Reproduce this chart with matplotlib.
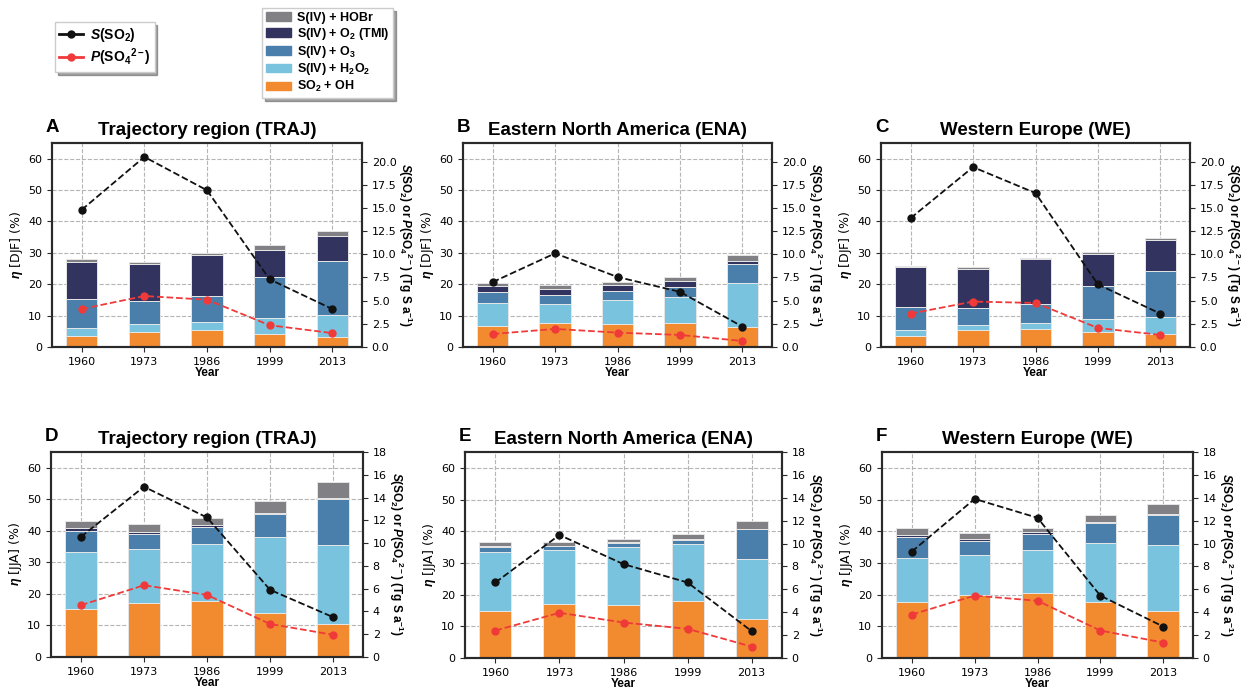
import numpy as np
import matplotlib
matplotlib.use("Agg")
import matplotlib.pyplot as plt
from matplotlib.patches import Patch
from matplotlib.lines import Line2D

plt.rcParams['font.family'] = ['DejaVu Sans']
plt.rcParams['mathtext.fontset'] = 'custom'
plt.rcParams['mathtext.rm'] = 'Liberation Sans:bold'
plt.rcParams['mathtext.it'] = 'Liberation Sans:italic:bold'
plt.rcParams['mathtext.bf'] = 'Liberation Sans:bold'

years = ['1960', '1973', '1986', '1999', '2013']
letters = ['A', 'B', 'C', 'D', 'E', 'F']
regions = ['Trajectory region (TRAJ)', 'Eastern North America (ENA)', 'Western Europe (WE)'] * 2
seasons = ['DJF'] * 3 + ['JJA'] * 3

# contribution to eta (%) of each pathway, one row per panel A..F
so2_oh = [[3.5, 4.8, 5.3, 4.1, 3.3],
          [6.8, 7.6, 7.3, 7.6, 6.3],
          [3.5, 5.4, 5.8, 4.8, 4.1],
          [15.2, 17.1, 17.8, 13.8, 10.6],
          [14.7, 17.1, 16.8, 17.9, 12.3],
          [17.6, 19.8, 20.5, 17.8, 14.9]]
s4_h2o2 = [[2.5, 2.5, 2.6, 5.2, 6.8],
           [7.2, 6.2, 7.6, 8.4, 14.1],
           [1.8, 1.7, 2.0, 4.0, 5.6],
           [18.0, 17.3, 17.9, 24.2, 25.0],
           [18.9, 17.1, 18.2, 18.1, 19.0],
           [14.0, 12.8, 13.6, 18.4, 20.6]]
s4_o3 = [[9.3, 7.5, 8.2, 13.1, 17.3],
         [3.5, 2.9, 3.1, 3.1, 6.2],
         [7.3, 5.3, 6.0, 10.5, 14.5],
         [6.9, 4.7, 5.6, 7.5, 14.4],
         [1.4, 1.1, 1.2, 1.1, 9.3],
         [6.5, 4.3, 4.9, 6.3, 9.6]]
s4_tmi = [[11.9, 11.7, 13.2, 8.6, 7.9],
          [1.8, 1.9, 1.6, 1.8, 0.9],
          [13.0, 12.6, 14.1, 10.2, 9.8],
          [0.7, 0.6, 0.6, 0.3, 0.3],
          [0.3, 0.1, 0.4, 0.4, 0.2],
          [0.7, 0.7, 0.7, 0.4, 0.4]]
s4_hobr = [[0.7, 0.7, 0.8, 1.4, 1.6],
           [1.1, 1.3, 1.2, 1.3, 1.9],
           [0.3, 0.4, 0.4, 0.7, 0.8],
           [2.4, 2.5, 2.3, 3.6, 5.3],
           [1.3, 1.1, 1.1, 1.5, 2.4],
           [2.1, 1.7, 1.3, 2.1, 3.1]]

# S(SO2) and P(SO4 2-) in Tg S a-1
s_so2 = [[14.8, 20.5, 16.9, 7.3, 4.1],
         [7.0, 10.1, 7.55, 5.95, 2.2],
         [13.9, 19.4, 16.6, 6.75, 3.6],
         [10.55, 14.95, 12.25, 5.9, 3.5],
         [6.6, 10.75, 8.2, 6.6, 2.35],
         [9.3, 13.9, 12.25, 5.45, 2.75]]
p_so4 = [[4.1, 5.5, 5.1, 2.35, 1.5],
         [1.4, 1.95, 1.55, 1.3, 0.65],
         [3.6, 4.9, 4.75, 2.05, 1.3],
         [4.55, 6.3, 5.45, 2.9, 1.95],
         [2.4, 3.95, 3.1, 2.55, 1.0],
         [3.8, 5.45, 5.0, 2.4, 1.35]]

layer_names = [r'SO$_2$ + OH', r'S(IV) + H$_2$O$_2$', r'S(IV) + O$_3$',
               r'S(IV) + O$_2$ (TMI)', 'S(IV) + HOBr']
layer_colors = ['#f28a30', '#79c3de', '#4a7eab', '#32335f', '#808085']
red = '#f03a3a'

# axes rectangles in pixels: left, top, right, bottom
W, H = 1246, 690
rects = [(52, 143, 362, 347), (463, 143, 772, 347), (881, 143, 1190, 347),
         (51, 452, 363, 657), (465, 452, 782, 658), (882, 452, 1193, 658)]

fig = plt.figure(figsize=(W / 100, H / 100), dpi=100)
lab_font = dict(family='Liberation Sans', weight='bold')
spine_c = '#2a2a2a'

for i in range(6):
    l, t, r, b = rects[i]
    ax = fig.add_axes([l / W, 1 - b / H, (r - l) / W, (b - t) / H])
    x = np.arange(len(years))
    bottom = np.zeros(len(years))
    layers = [so2_oh[i], s4_h2o2[i], s4_o3[i], s4_tmi[i], s4_hobr[i]]
    for vals, col in zip(layers, layer_colors):
        ax.bar(x, vals, 0.5, bottom=bottom, color=col, edgecolor='#e6e6e6', linewidth=0.7)
        bottom += np.array(vals)
    ax.set_ylim(0, 65)
    ax.set_yticks(range(0, 61, 10))
    ax.set_xticks(x)
    ax.set_xticklabels(years)
    ax.set_axisbelow(True)
    ax.grid(True, ls='--', color='#b5b5b5', lw=0.8)
    ax.tick_params(labelsize=8, length=3.5, width=0.8, color=spine_c)
    ax.set_xlabel('Year', fontsize=8.5, labelpad=0, **lab_font)
    ax.set_ylabel(r'$\eta$ [' + seasons[i] + '] (%)', fontsize=9, labelpad=2,
                  family='DejaVu Sans', weight='medium')
    ax.set_title(regions[i], fontsize=13.5, pad=6, **lab_font)
    ax.text(-0.02, 1.035, letters[i], transform=ax.transAxes, fontsize=13.5,
            ha='left', va='bottom', **lab_font)

    ax2 = ax.twinx()
    ax2.plot(x, s_so2[i], '--o', color='#111111', lw=1.3, ms=5)
    ax2.plot(x, p_so4[i], '--o', color=red, lw=1.3, ms=5)
    if seasons[i] == 'DJF':
        ax2.set_ylim(0, 22)
        ax2.set_yticks(np.arange(0, 20.1, 2.5))
        ax2.set_yticklabels(['%.1f' % v for v in np.arange(0, 20.1, 2.5)])
    else:
        ax2.set_ylim(0, 18)
        ax2.set_yticks(range(0, 19, 2))
    ax2.tick_params(labelsize=8, length=3.5, width=0.8, color=spine_c)
    ax2.set_ylabel(r'$S$(SO$_2$) or $P$(SO$_4{}^{2-}$) (Tg S a$^{-1}$)', fontsize=8.5,
                   rotation=270, labelpad=13, **lab_font)
    for a in (ax, ax2):
        for s in a.spines.values():
            s.set_linewidth(1.5)
            s.set_color(spine_c)

line_handles = [Line2D([], [], color='#111111', ls='-', marker='o', ms=5, lw=2),
                Line2D([], [], color=red, ls='-', marker='o', ms=5, lw=2)]
leg1 = fig.legend(line_handles, [r'$S$(SO$_2$)', r'$P$(SO$_4{}^{2-}$)'],
                  loc='upper left', bbox_to_anchor=(55 / W, 1 - 22 / H), borderaxespad=0,
                  fancybox=False, shadow=True, edgecolor='#cccccc',
                  prop=dict(family='Liberation Sans', weight='bold', size=10),
                  handlelength=1.7, borderpad=0.3, labelspacing=0.15, handletextpad=0.5)

patch_handles = [Patch(color=c) for c in layer_colors[::-1]]
leg2 = fig.legend(patch_handles, layer_names[::-1],
                  loc='upper left', bbox_to_anchor=(262 / W, 1 - 8 / H), borderaxespad=0,
                  fancybox=False, shadow=True, edgecolor='#cccccc',
                  prop=dict(family='Liberation Sans', weight='bold', size=9),
                  handlelength=2.0, handleheight=0.7, borderpad=0.3,
                  labelspacing=0.15, handletextpad=0.5)

fig.savefig('out.png', dpi=100)
